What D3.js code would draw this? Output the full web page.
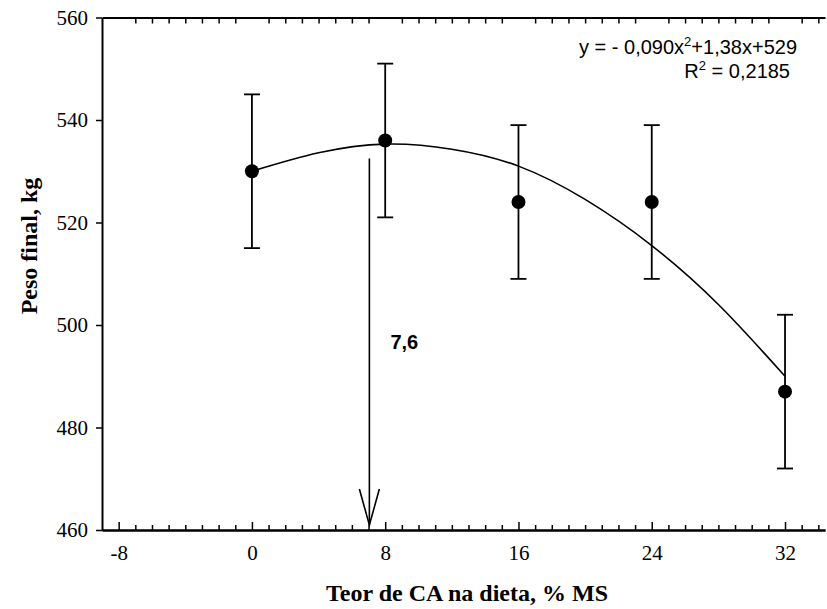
<!DOCTYPE html>
<html lang="pt">
<head>
<meta charset="UTF-8">
<title>Peso final</title>
<script src="https://d3js.org/d3.v7.min.js"></script>
<style>
  body { margin: 0; background: #fff; }
  .tick text { font-family: "Liberation Serif", "Times New Roman", serif; font-size: 21px; fill: #000; }
  .axis path, .axis line { stroke: #000; }
  .axis path { stroke-width: 2px; }
  .axis line { stroke-width: 1.5px; }
  .title { font-family: "Liberation Serif", "Times New Roman", serif; font-weight: bold; font-size: 24px; }
  .eq { font-family: "Liberation Sans", Arial, sans-serif; font-size: 20px; }
</style>
</head>
<body>
<div id="chart"></div>
<script>
// dados
var doses = [0, 8, 16, 24, 32];
var pesoMedio = [530, 536, 524, 524, 487];
var erro = [15, 15, 15, 15, 15];

// pontos da curva ajustada
var curvaX = [0, 4, 8, 12, 16, 20, 24, 28, 32];
var curvaY = [530, 533.6, 535.3, 534.3, 531, 524.5, 515.5, 504, 490];

var xMajor = [-8, 0, 8, 16, 24, 32];
var yTicks = [460, 480, 500, 520, 540, 560];

// seta do ponto de máximo
var setaX = 7.05;
var setaTopo = 532.5;
var setaLabel = "7,6";

var equacao = ["y = - 0,090x", "2", "+1,38x+529"];
var r2 = ["R", "2", " = 0,2185"];

var width = 827, height = 609;

var x = d3.scaleLinear().domain([-9, 34.4]).range([102, 825]);
var y = d3.scaleLinear().domain([460, 560]).range([530, 17.5]);

var svg = d3.select("#chart").append("svg")
  .attr("width", width)
  .attr("height", height);

var xMinor = d3.range(-8, 35).filter(function (d) { return d % 8 !== 0; });

// eixo inferior - marcas menores
svg.append("g")
  .attr("class", "axis")
  .attr("transform", "translate(0," + y(460) + ")")
  .call(d3.axisBottom(x).tickValues(xMinor).tickSize(-5).tickSizeOuter(0).tickFormat(""));

// eixo inferior - marcas maiores com rótulos
svg.append("g")
  .attr("class", "axis")
  .attr("transform", "translate(0," + y(460) + ")")
  .call(d3.axisBottom(x).tickValues(xMajor).tickSize(-8).tickSizeOuter(0).tickPadding(15)
    .tickFormat(function (d) { return String(d); }))
  .selectAll("text").attr("dy", "0.71em");

// eixo superior
svg.append("g")
  .attr("class", "axis")
  .attr("transform", "translate(0," + y(560) + ")")
  .call(d3.axisTop(x).tickValues(xMinor).tickSize(-6).tickSizeOuter(0).tickFormat(""));

// eixo y
svg.append("g")
  .attr("class", "axis")
  .attr("transform", "translate(" + x(-9) + ",0)")
  .call(d3.axisLeft(y).tickValues(yTicks).tickSize(6).tickSizeOuter(0).tickPadding(8));

// curva
var linha = d3.line()
  .x(function (d, i) { return x(curvaX[i]); })
  .y(function (d) { return y(d); })
  .curve(d3.curveNatural);

svg.append("path")
  .datum(curvaY)
  .attr("d", linha)
  .attr("fill", "none")
  .attr("stroke", "#000")
  .attr("stroke-width", 1.6);

// barras de erro
var eb = svg.append("g").attr("stroke", "#000").attr("stroke-width", 1.8);
doses.forEach(function (d, i) {
  var top = y(pesoMedio[i] + erro[i]);
  var bot = y(pesoMedio[i] - erro[i]);
  eb.append("line").attr("x1", x(d)).attr("x2", x(d)).attr("y1", top).attr("y2", bot);
  eb.append("line").attr("x1", x(d) - 8).attr("x2", x(d) + 8).attr("y1", top).attr("y2", top);
  eb.append("line").attr("x1", x(d) - 8).attr("x2", x(d) + 8).attr("y1", bot).attr("y2", bot);
});

// pontos
svg.selectAll(".ponto")
  .data(doses)
  .enter().append("circle")
  .attr("class", "ponto")
  .attr("cx", function (d) { return x(d); })
  .attr("cy", function (d, i) { return y(pesoMedio[i]); })
  .attr("r", 7)
  .attr("fill", "#000");

// seta
var sx = x(setaX);
svg.append("line")
  .attr("x1", sx).attr("x2", sx)
  .attr("y1", y(setaTopo)).attr("y2", y(460) - 5)
  .attr("stroke", "#000").attr("stroke-width", 1.6);
svg.append("path")
  .attr("d", "M" + (sx - 10) + "," + (y(460) - 41) + "L" + sx + "," + (y(460) - 5) + "L" + (sx + 10) + "," + (y(460) - 41))
  .attr("fill", "none").attr("stroke", "#000").attr("stroke-width", 1.6);

svg.append("text")
  .attr("class", "eq")
  .attr("x", sx + 21)
  .attr("y", 349)
  .attr("font-weight", "bold")
  .text(setaLabel);

// equação
var t1 = svg.append("text").attr("class", "eq").attr("x", 797).attr("y", 54).attr("text-anchor", "end");
t1.append("tspan").text(equacao[0]);
t1.append("tspan").attr("dy", -8).attr("font-size", "13px").text(equacao[1]);
t1.append("tspan").attr("dy", 8).text(equacao[2]);

var t2 = svg.append("text").attr("class", "eq").attr("x", 790).attr("y", 78).attr("text-anchor", "end");
t2.append("tspan").text(r2[0]);
t2.append("tspan").attr("dy", -8).attr("font-size", "13px").text(r2[1]);
t2.append("tspan").attr("dy", 8).text(r2[2]);

// títulos dos eixos
svg.append("text")
  .attr("class", "title")
  .attr("x", 467)
  .attr("y", 601)
  .attr("text-anchor", "middle")
  .text("Teor de CA na dieta, % MS");

svg.append("text")
  .attr("class", "title")
  .attr("transform", "translate(37,246) rotate(-90)")
  .attr("text-anchor", "middle")
  .text("Peso final, kg");
</script>
</body>
</html>
